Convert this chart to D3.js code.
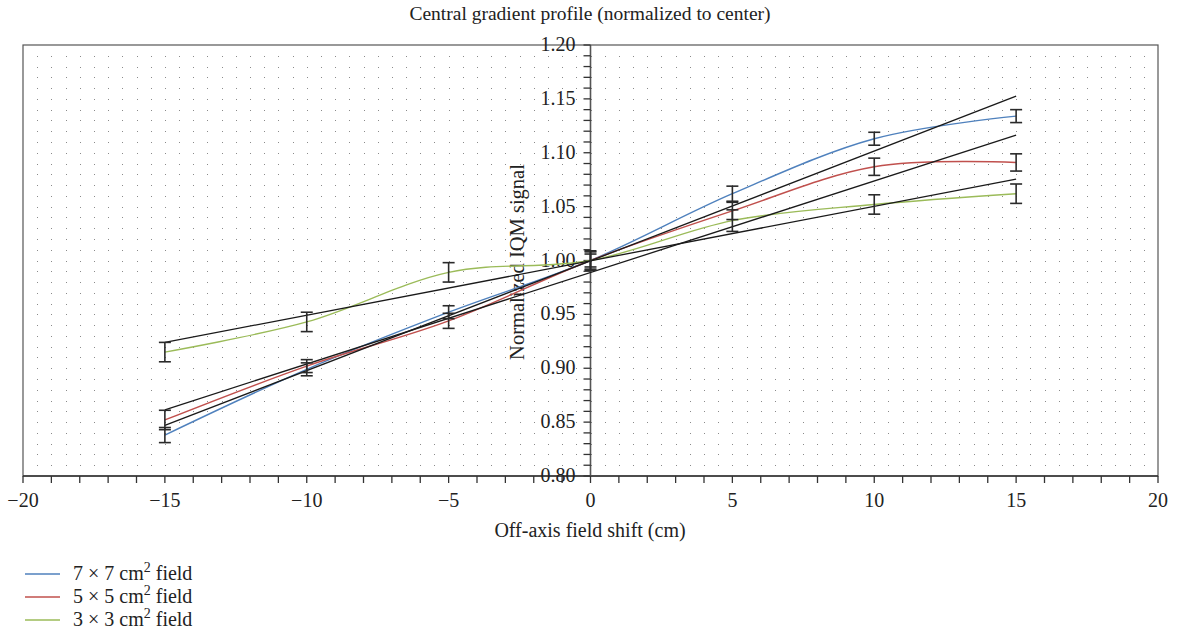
<!DOCTYPE html>
<html>
<head>
<meta charset="utf-8">
<script src="https://cdn.jsdelivr.net/npm/d3@7"></script>
<style>
  body { margin: 0; background: #fff; }
  text { font-family: "Liberation Serif", "DejaVu Serif", serif; fill: #222; }
</style>
</head>
<body>
<svg id="chart" width="1177" height="642"></svg>
<script>
// values
var shifts = [-15, -10, -5, 0, 5, 10, 15];
var field7 = [0.838, 0.899, 0.952, 1.000, 1.062, 1.113, 1.134];
var field5 = [0.852, 0.902, 0.944, 1.000, 1.046, 1.087, 1.091];
var field3 = [0.915, 0.943, 0.989, 1.000, 1.037, 1.052, 1.062];
var err7 = [0.007, 0.006, 0.006, 0.006, 0.007, 0.006, 0.006];
var err5 = [0.009, 0.006, 0.007, 0.008, 0.008, 0.008, 0.008];
var err3 = [0.009, 0.009, 0.009, 0.009, 0.010, 0.009, 0.009];
var seriesNames = ["7 \u00d7 7 cm", "5 \u00d7 5 cm", "3 \u00d7 3 cm"];
var seriesColors = ["#4f81bd", "#c0504d", "#9bbb59"];
var xTicks = [-20, -15, -10, -5, 0, 5, 10, 15, 20];
var yTicks = [0.80, 0.85, 0.90, 0.95, 1.00, 1.05, 1.10, 1.15, 1.20];

var svg = d3.select("#chart");
var x = d3.scaleLinear().domain([-20, 20]).range([23, 1158]);
var y = d3.scaleLinear().domain([0.8, 1.2]).range([476, 45]);

// dotted grid
var grid = svg.append("g");
var gx = d3.range(-19.5, 20, 0.5), gy = d3.range(81, 120).map(function(d) { return d / 100; });
gy.forEach(function(v) {
  grid.selectAll(null).data(gx).enter().append("rect")
    .attr("x", function(d) { return Math.round(x(d)); })
    .attr("y", Math.round(y(v)))
    .attr("width", 1).attr("height", 1)
    .attr("fill", "#8a8a8a");
});

// frame
svg.append("rect")
  .attr("x", x(-20)).attr("y", y(1.2))
  .attr("width", x(20) - x(-20)).attr("height", y(0.8) - y(1.2))
  .attr("fill", "none").attr("stroke", "#555").attr("stroke-width", 1.2);

// x axis
var xAxis = svg.append("g").attr("transform", "translate(0," + y(0.8) + ")");
xAxis.append("line").attr("x1", x(-20)).attr("x2", x(20)).attr("stroke", "#333").attr("stroke-width", 1.5);
xAxis.selectAll(".tk").data(d3.range(-20, 21, 1)).enter().append("line")
  .attr("x1", function(d) { return x(d); }).attr("x2", function(d) { return x(d); })
  .attr("y1", 0).attr("y2", 7).attr("stroke", "#333").attr("stroke-width", 1.3);
xAxis.selectAll(".lb").data(xTicks).enter().append("text")
  .attr("x", function(d) { return x(d); }).attr("y", 31)
  .attr("text-anchor", "middle").attr("font-size", 20)
  .text(function(d) { return d3.format("d")(d); });

// y axis at x = 0
var yAxis = svg.append("g").attr("transform", "translate(" + x(0) + ",0)");
yAxis.append("line").attr("y1", y(0.8)).attr("y2", y(1.2)).attr("stroke", "#555").attr("stroke-width", 1.6);
yAxis.selectAll(".tk").data(d3.range(80, 121, 1)).enter().append("line")
  .attr("y1", function(d) { return y(d / 100); }).attr("y2", function(d) { return y(d / 100); })
  .attr("x1", -7).attr("x2", 0).attr("stroke", "#333").attr("stroke-width", 1.3);
yAxis.selectAll(".lb").data(yTicks).enter().append("text")
  .attr("x", -15).attr("y", function(d) { return y(d) + 6; })
  .attr("text-anchor", "end").attr("font-size", 20)
  .text(function(d) { return d3.format(".2f")(d); });

// titles
svg.append("text").attr("x", 590).attr("y", 20).attr("text-anchor", "middle").attr("font-size", 19.5)
  .text("Central gradient profile (normalized to center)");
svg.append("text").attr("x", 590).attr("y", 537).attr("text-anchor", "middle").attr("font-size", 20)
  .text("Off-axis field shift (cm)");
svg.append("text").attr("transform", "translate(524,262) rotate(-90)").attr("text-anchor", "middle").attr("font-size", 20.5)
  .text("Normalized IQM signal");

var series = [field7, field5, field3];
var errs = [err7, err5, err3];

// smoothed data curves
var line = d3.line()
  .x(function(d) { return x(d[0]); })
  .y(function(d) { return y(d[1]); })
  .curve(d3.curveCatmullRom.alpha(0));
series.forEach(function(vals, i) {
  svg.append("path")
    .attr("d", line(d3.zip(shifts, vals)))
    .attr("fill", "none").attr("stroke", seriesColors[i]).attr("stroke-width", 1.4);
});

// linear trend lines (least squares)
series.forEach(function(vals) {
  var mx = d3.mean(shifts), my = d3.mean(vals);
  var sxy = d3.sum(shifts, function(s, k) { return (s - mx) * (vals[k] - my); });
  var sxx = d3.sum(shifts, function(s) { return (s - mx) * (s - mx); });
  var b = sxy / sxx, a = my - b * mx;
  svg.append("line")
    .attr("x1", x(-15)).attr("y1", y(a + b * -15))
    .attr("x2", x(15)).attr("y2", y(a + b * 15))
    .attr("stroke", "#1a1a1a").attr("stroke-width", 1.3);
});

// error bars
series.forEach(function(vals, i) {
  var g = svg.append("g").attr("stroke", "#2a2a2a").attr("stroke-width", 1.6);
  shifts.forEach(function(s, k) {
    var lo = y(vals[k] - errs[i][k]), hi = y(vals[k] + errs[i][k]), cx = x(s);
    g.append("line").attr("x1", cx).attr("x2", cx).attr("y1", lo).attr("y2", hi);
    g.append("line").attr("x1", cx - 6).attr("x2", cx + 6).attr("y1", lo).attr("y2", lo);
    g.append("line").attr("x1", cx - 6).attr("x2", cx + 6).attr("y1", hi).attr("y2", hi);
  });
});

// legend
var legend = svg.append("g");
seriesNames.forEach(function(name, i) {
  var ly = 574 + i * 23;
  legend.append("line").attr("x1", 25).attr("x2", 60).attr("y1", ly).attr("y2", ly)
    .attr("stroke", seriesColors[i]).attr("stroke-width", 1.4);
  var t = legend.append("text").attr("x", 73).attr("y", ly + 6).attr("font-size", 20);
  t.append("tspan").text(name);
  t.append("tspan").attr("dy", -8).attr("font-size", 14).text("2");
  t.append("tspan").attr("dy", 8).text(" field");
});
</script>
</body>
</html>
